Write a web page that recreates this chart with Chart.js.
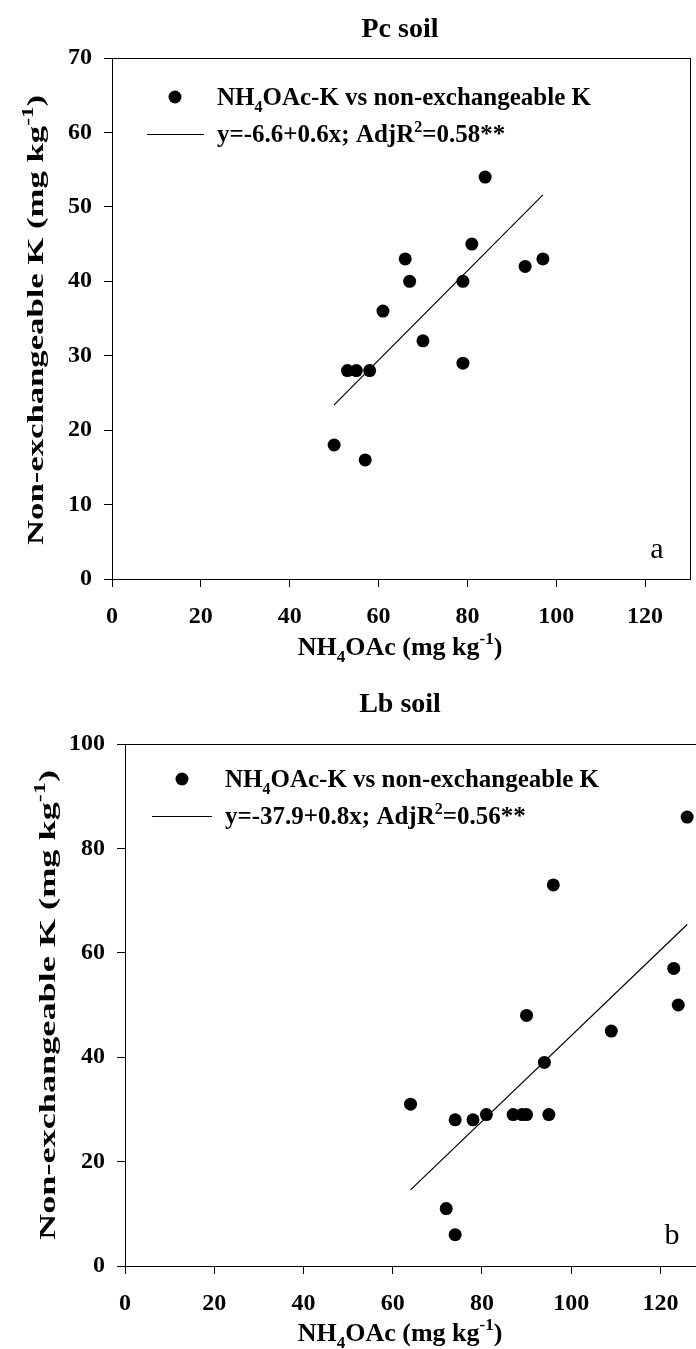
<!DOCTYPE html>
<html>
<head>
<meta charset="utf-8">
<script src="https://cdn.jsdelivr.net/npm/chart.js@4.4.1/dist/chart.umd.min.js"></script>
<style>
  html, body { margin: 0; padding: 0; background: #fff; overflow: hidden; width: 696px; height: 1349px; position: relative; }
  canvas { position: absolute; left: 0; }
  #pc { top: 0; }
  #lb { top: 680px; }
</style>
</head>
<body>
<canvas id="pc" width="696" height="680"></canvas>
<canvas id="lb" width="760" height="669"></canvas>
<script>
// Pc soil: NH4OAc-extractable K against non-exchangeable K (mg kg-1)
const pcAcetateK = [50, 57, 53, 55, 58, 61, 66, 67, 70, 79, 79, 81, 84, 93, 97];
const pcNonExchK = [18, 16, 28, 28, 28, 36, 43, 40, 32, 40, 29, 45, 54, 42, 43];
const pcIntercept = -6.6;
const pcSlope = 0.6;
const pcAdjR2 = '0.58';

// Lb soil
const lbAcetateK = [64, 72, 74, 74, 78, 81, 87, 89, 90, 90, 94, 95, 96, 109, 123, 124, 126];
const lbNonExchK = [31, 11, 6, 28, 28, 29, 29, 29, 29, 48, 39, 29, 73, 45, 57, 50, 86];
const lbIntercept = -37.9;
const lbSlope = 0.82;   // reported as 0.8
const lbAdjR2 = '0.56';

// Axis ticks
const xTicks = [0, 20, 40, 60, 80, 100, 120];
const pcYTicks = [0, 10, 20, 30, 40, 50, 60, 70];
const lbYTicks = [0, 20, 40, 60, 80, 100];

const SERIF = '"Liberation Serif", "Times New Roman", serif';

function fontFor(kind, size, weight) {
  const s = kind ? Math.round(size * 0.65) : size;
  return `${weight} ${s}px ${SERIF}`;
}

function richWidth(ctx, parts, size, weight) {
  let w = 0;
  parts.forEach(p => { ctx.font = fontFor(p[1], size, weight); w += ctx.measureText(p[0]).width; });
  return w;
}

// Draw text made of runs, each run optionally sub- or superscripted.
function drawRich(ctx, parts, x, y, size, align, weight) {
  weight = weight || 'bold';
  ctx.textBaseline = 'alphabetic';
  ctx.textAlign = 'left';
  const w = richWidth(ctx, parts, size, weight);
  let cx = align === 'center' ? x - w / 2 : x;
  parts.forEach(p => {
    ctx.font = fontFor(p[1], size, weight);
    const dy = p[1] === 'sub' ? size * 0.28 : p[1] === 'sup' ? -size * 0.42 : 0;
    ctx.fillText(p[0], cx, y + dy);
    cx += ctx.measureText(p[0]).width;
  });
}

function fmt(v) { return (v < 0 ? '-' : '') + Math.abs(v).toFixed(1); }

function buildChart(id, o) {
  const points = o.xs.map((x, i) => ({ x: x, y: o.ys[i] }));
  const xMin = Math.min(...o.xs), xMax = Math.max(...o.xs);
  const fit = [xMin, xMax].map(x => ({ x: x, y: o.intercept + o.slope * x }));

  const decor = {
    id: 'decor',
    afterDraw(chart) {
      const ctx = chart.ctx, a = chart.chartArea;
      ctx.save();
      ctx.strokeStyle = '#000';
      ctx.lineWidth = 1;
      ctx.strokeRect(Math.round(a.left) + 0.5, Math.round(a.top) + 0.5,
                     Math.round(a.right - a.left), Math.round(a.bottom - a.top));
      ctx.fillStyle = '#000';

      // panel title
      ctx.font = `bold 28px ${SERIF}`;
      ctx.textAlign = 'center';
      ctx.textBaseline = 'alphabetic';
      ctx.fillText(o.title, o.titleX, o.titleY);

      // legend
      const L = o.legend;
      ctx.beginPath();
      ctx.arc(L.dotX, L.row1, 6.5, 0, Math.PI * 2);
      ctx.fill();
      drawRich(ctx, [['NH', ''], ['4', 'sub'], ['OAc-K vs non-exchangeable K', '']], L.textX, L.row1 + 8, 25, 'left');
      ctx.beginPath();
      ctx.moveTo(L.lineX0, L.row2 + 0.5);
      ctx.lineTo(L.lineX1, L.row2 + 0.5);
      ctx.stroke();
      const eq = 'y=' + fmt(o.intercept) + '+' + o.slope.toFixed(1) + 'x; AdjR';
      drawRich(ctx, [[eq, ''], ['2', 'sup'], ['=' + o.r2 + '**', '']], L.textX, L.row2 + 8, 25, 'left');

      // x axis title
      drawRich(ctx, [['NH', ''], ['4', 'sub'], ['OAc (mg kg', ''], ['-1', 'sup'], [')', '']],
               o.xTitleX, o.xTitleY, 26, 'center');

      // y axis title, stretched along its length
      const yParts = [['Non-exchangeable K (mg kg', ''], ['-1', 'sup'], [')', '']];
      const yw = richWidth(ctx, yParts, 24, 'bold');
      ctx.save();
      ctx.translate(o.yTitleX, o.yTitleY);
      ctx.rotate(-Math.PI / 2);
      ctx.scale(o.yTitleLen / yw, 1);
      drawRich(ctx, yParts, 0, 8, 24, 'center');
      ctx.restore();

      // panel letter
      ctx.font = `30px ${SERIF}`;
      ctx.textAlign = 'center';
      ctx.fillText(o.letter, o.letterX, o.letterY);
      ctx.restore();
    }
  };

  const tickFont = { family: SERIF, size: 24, weight: 'bold' };
  return new Chart(document.getElementById(id), {
    type: 'scatter',
    data: {
      datasets: [
        { type: 'line', data: fit, borderColor: '#000', borderWidth: 1.2, pointRadius: 0, fill: false, order: 1 },
        { type: 'scatter', data: points, backgroundColor: '#000', borderColor: '#000', pointRadius: 6.5, borderWidth: 0, order: 0 }
      ]
    },
    options: {
      responsive: false,
      animation: false,
      events: [],
      layout: { padding: { left: 0, top: o.padTop, right: o.padRight, bottom: 0 } },
      plugins: { legend: { display: false }, tooltip: { enabled: false }, title: { display: false } },
      scales: {
        x: {
          type: 'linear', min: 0, max: 130,
          afterBuildTicks: s => { s.ticks = xTicks.map(v => ({ value: v })); },
          afterFit: s => { s.height = o.xAxisH; },
          border: { display: false },
          grid: { display: true, drawOnChartArea: false, drawTicks: true, tickLength: 8, color: '#000', lineWidth: 1 },
          ticks: { font: tickFont, color: '#000', padding: 15, maxRotation: 0 }
        },
        y: {
          type: 'linear', min: 0, max: o.yMax,
          afterBuildTicks: s => { s.ticks = o.yTicks.map(v => ({ value: v })); },
          afterFit: s => { s.width = o.yAxisW; },
          border: { display: false },
          grid: { display: true, drawOnChartArea: false, drawTicks: true, tickLength: 8, color: '#000', lineWidth: 1 },
          ticks: { font: tickFont, color: '#000', padding: 12 }
        }
      }
    },
    plugins: [decor]
  });
}

buildChart('pc', {
  xs: pcAcetateK, ys: pcNonExchK, intercept: pcIntercept, slope: pcSlope, r2: pcAdjR2,
  yMax: 70, yTicks: pcYTicks,
  padTop: 58, padRight: 6, yAxisW: 112, xAxisH: 101,
  title: 'Pc soil', titleX: 400, titleY: 37,
  legend: { dotX: 175, row1: 97, lineX0: 147, lineX1: 204, row2: 134, textX: 217 },
  xTitleX: 400, xTitleY: 655,
  yTitleX: 35, yTitleY: 320, yTitleLen: 450,
  letter: 'a', letterX: 657, letterY: 558
});

buildChart('lb', {
  xs: lbAcetateK, ys: lbNonExchK, intercept: lbIntercept, slope: lbSlope, r2: lbAdjR2,
  yMax: 100, yTicks: lbYTicks,
  padTop: 64, padRight: 55, yAxisW: 125, xAxisH: 83,
  title: 'Lb soil', titleX: 400, titleY: 32,
  legend: { dotX: 182, row1: 99, lineX0: 152, lineX1: 212, row2: 136, textX: 225 },
  xTitleX: 400, xTitleY: 661,
  yTitleX: 47, yTitleY: 325, yTitleLen: 470,
  letter: 'b', letterX: 672, letterY: 564
});
</script>
</body>
</html>
